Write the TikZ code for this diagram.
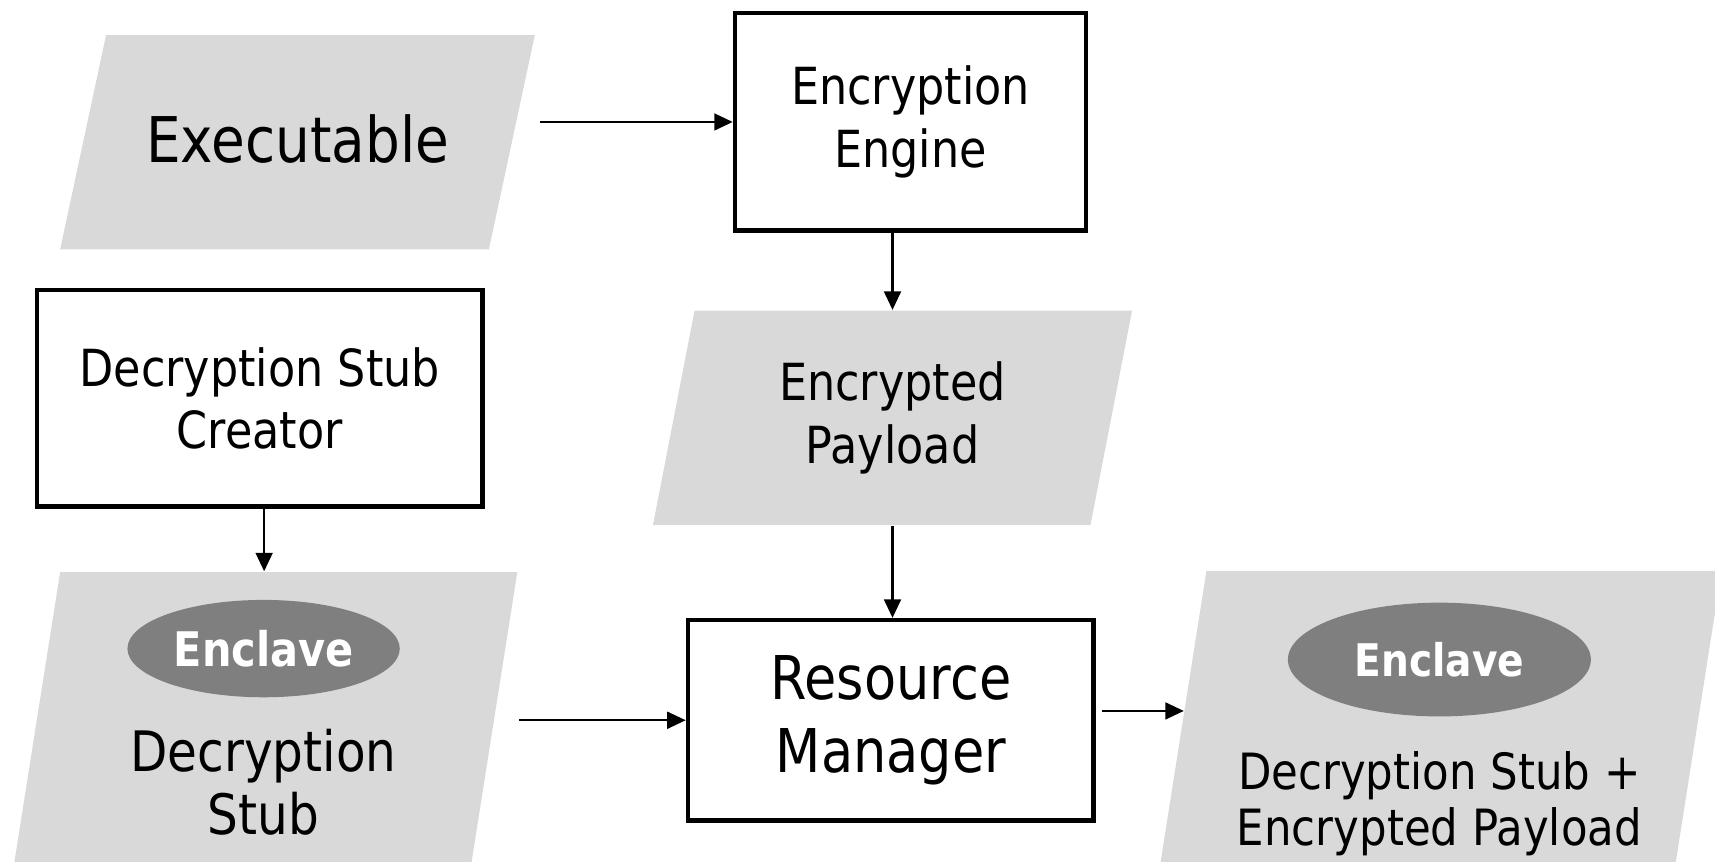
\documentclass[tikz,border=0pt]{standalone}
\usepackage{fontspec}
\setmainfont{DejaVu Sans}[FakeStretch=0.87]
\usepackage{xcolor}
\usepackage{tikz}
\usetikzlibrary{shapes}
\usetikzlibrary{positioning}
\usetikzlibrary{arrows.meta}
\definecolor{paper}{RGB}{217,217,217}
\definecolor{vault}{RGB}{127,127,127}
\newcommand{\fsz}[2]{\fontsize{#1}{#2}\selectfont}

\begin{document}
\begin{tikzpicture}[
	box/.style={rectangle,draw,line width=1.2pt,align=center,inner sep=0pt},
  datum/.style={rectangle,align=center,inner sep=0pt,
    path picture={\fill[paper] ([xshift=#1]path picture bounding box.north west)
      -- (path picture bounding box.north east) -- ([xshift=-#1]path picture bounding box.south east)
      -- (path picture bounding box.south west) -- cycle;}},
  datum/.default=0.4cm,
  enclave/.style={ellipse,fill=vault,text=white,inner sep=0pt},
  flow/.style={-{Triangle[length=4.8pt,width=4.4pt]},line width=0.55pt},
	font=\fsz{13.3}{16.2}]
  \useasboundingbox (0,0) rectangle (15.68,-7.88);
  \clip (0,0) rectangle (15.68,-7.88);

  \node[datum=0.42cm,minimum width=4.34cm,minimum height=1.96cm,font=\fsz{16.4}{19}] (exe) at (2.72,-1.30) {\raisebox{0.07cm}{Executable}};
  \node[box,minimum width=3.21cm,minimum height=1.99cm] (engine) at (8.325,-1.115) {Encryption\\Engine};
  \node[datum=0.38cm,minimum width=4.38cm,minimum height=1.96cm] (payload) at (8.16,-3.82) {Encrypted\\Payload};
  \node[box,minimum width=4.07cm,minimum height=1.98cm] (creator) at (2.375,-3.64) {Decryption Stub\\Creator};
  \node[box,minimum width=3.71cm,minimum height=1.83cm,font=\fsz{15.7}{19}] (manager) at (8.145,-6.585) {Resource\\Manager};

  \node[datum=0.45cm,minimum width=4.63cm,minimum height=2.85cm] (stub) at (2.415,-6.655) {};
  \node[enclave,minimum width=2.49cm,minimum height=0.89cm,font=\bfseries\fsz{12.4}{14}] (stubvault) at (2.41,-5.93) {Enclave};
  \node[align=center,font=\fsz{14.5}{16.5}] (stublabel) at (2.41,-7.15) {Decryption\\Stub};

  \node[datum=0.45cm,minimum width=5.16cm,minimum height=2.86cm] (packed) at (13.16,-6.65) {};
  \node[enclave,minimum width=2.77cm,minimum height=1.04cm,font=\bfseries\fsz{11.7}{14}] (packedvault) at (13.16,-6.03) {Enclave};
  \node[align=center,font=\fsz{13}{14.5}] (packedlabel) at (13.16,-7.35) {Decryption Stub +\\Encrypted Payload};

  \draw[flow,shorten <=1.1pt] (exe.north east |- engine.west) -- (engine.west);
  \draw[flow] (engine.south -| payload.north) -- (payload.north);
  \draw[flow] (payload.south) -- (payload.south |- manager.north);
  \draw[flow] (creator.south -| stub.north) -- (stub.north);
  \draw[flow,shorten <=0.3pt] (stub.north east |- manager.west) -- (manager.west);
  \draw[flow,shorten <=1.6pt] ([yshift=0.085cm]manager.east) -- ([xshift=0.25cm,yshift=0.085cm]manager.east -| packed.west);
\end{tikzpicture}
\end{document}
